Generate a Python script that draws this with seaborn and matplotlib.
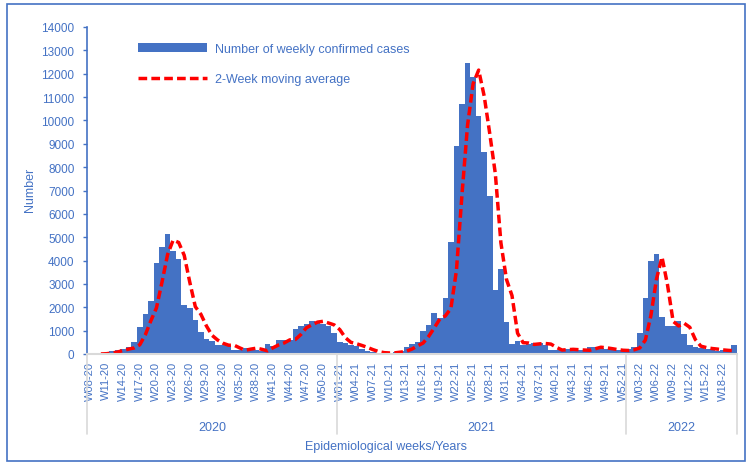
import numpy as np
import pandas as pd
import matplotlib
matplotlib.use("Agg")
import matplotlib.pyplot as plt
import matplotlib.transforms as mtransforms
from matplotlib.patches import Patch, Rectangle
from matplotlib.lines import Line2D
import seaborn as sns

# ---------------- data ----------------
weeks_2020 = [f"W{w:02d}-20" for w in range(8, 53)]
weeks_2021 = [f"W{w:02d}-21" for w in range(1, 53)]
weeks_2022 = [f"W{w:02d}-22" for w in range(1, 21)]

cases_2020 = [0, 5, 20, 60, 110, 190, 230, 290, 500, 1150,
              1700, 2250, 3900, 4600, 5150, 4400, 4050, 2100, 1950, 1450,
              950, 650, 550, 370, 380, 370, 150, 170, 250, 250,
              150, 120, 420, 360, 590, 620, 620, 1050, 1200, 1300,
              1430, 1370, 1280, 1210, 880]
cases_2021 = [520, 480, 400, 330, 230, 140, 70, 45, 45, 60,
              100, 140, 285, 410, 530, 980, 1250, 1740, 1520, 2380,
              4780, 8900, 10700, 12440, 11870, 10200, 8660, 6780, 2750, 3650,
              1350, 430, 540, 400, 420, 450, 450, 400, 170, 170,
              200, 200, 170, 170, 150, 300, 280, 250, 210, 170,
              150, 150]
cases_2022 = [210, 310, 880, 2400, 4000, 4300, 1600, 1200, 1200, 1430,
              860, 380, 290, 260, 210, 210, 140, 170, 110, 400]

years = ["2020", "2021", "2022"]
year_weeks = [weeks_2020, weeks_2021, weeks_2022]

BLUE = "#4472C4"
RED = "#FF0000"
GRAY = "#D9D9D9"

sns.set_theme(style="white")
plt.rcParams["font.family"] = ["Liberation Sans", "DejaVu Sans"]

weeks = weeks_2020 + weeks_2021 + weeks_2022
cases = cases_2020 + cases_2021 + cases_2022
df = pd.DataFrame({"week": weeks, "cases": cases})
df["pos"] = np.arange(len(df))
# 2-week moving average (drawn one week later, as in the source chart)
df["ma"] = df["cases"].rolling(2).mean().shift(1)

W, H = 747, 464
fig = plt.figure(figsize=(W / 100, H / 100), dpi=100)
ax = fig.add_axes([87 / W, 1 - 355 / H, 650 / W, 327 / H])

sns.barplot(data=df, x="week", y="cases", order=weeks, color=BLUE,
            width=1.0, saturation=1, linewidth=0, errorbar=None, ax=ax)
sns.lineplot(data=df.dropna(), x="pos", y="ma", color=RED, lw=2.5, ax=ax)
ax.lines[-1].set_linestyle((0, (2.5, 1.2)))

n = len(weeks)
ax.set_xlim(-0.5, n - 0.5)
ax.set_ylim(0, 14000)
ax.set_yticks(range(0, 14001, 1000))
ax.set_yticklabels([str(v) for v in range(0, 14001, 1000)])
ax.set_xticks(range(0, n, 3))
ax.set_xticklabels(weeks[::3], rotation=90)
ax.set_xlabel("")
ax.set_ylabel("")

ax.tick_params(axis="x", length=0, pad=5, labelsize=8, labelcolor=BLUE)
ax.tick_params(axis="y", direction="out", length=3, width=1, color=BLUE,
               pad=6, labelsize=8.5, labelcolor=BLUE, left=True)
for s in ["top", "right"]:
    ax.spines[s].set_visible(False)
ax.spines["left"].set_color(BLUE)
ax.spines["left"].set_linewidth(1.2)
ax.spines["bottom"].set_color(GRAY)
ax.spines["bottom"].set_linewidth(1.5)
ax.grid(False)

# year group separators and labels
trans = mtransforms.blended_transform_factory(ax.transData, ax.transAxes)
start = -0.5
bounds = [start]
for wk in year_weeks:
    start += len(wk)
    bounds.append(start)
for b in bounds:
    ax.add_line(Line2D([b, b], [0, -80 / 327], transform=trans, color=GRAY,
                       lw=1.2, clip_on=False))
for yr, a, b in zip(years, bounds[:-1], bounds[1:]):
    ax.text((a + b) / 2, -73 / 327, yr, transform=trans, ha="center",
            va="center", fontsize=9, color=BLUE)

fig.text(386 / W, 1 - 447 / H, "Epidemiological weeks/Years", ha="center",
         va="center", fontsize=9, color=BLUE)
fig.text(30 / W, 1 - 190 / H, "Number", ha="center", va="center",
         rotation=90, fontsize=9, color=BLUE)

handles = [Patch(facecolor=BLUE, edgecolor="none"),
           Line2D([], [], color=RED, lw=2.5, linestyle=(0, (2.5, 1.2)))]
fig.legend(handles, ["Number of weekly confirmed cases", "2-Week moving average"],
           loc="upper left", bbox_to_anchor=(138 / W, 1 - 44 / H),
           bbox_transform=fig.transFigure, frameon=False, fontsize=9,
           labelcolor=BLUE, handlelength=5.5, handletextpad=0.65,
           labelspacing=1.45, borderpad=0, borderaxespad=0)

fig.patches.append(Rectangle((7 / W, 2 / H), 738 / W, 457 / H,
                             transform=fig.transFigure, fill=False,
                             edgecolor=BLUE, lw=1.2))

fig.savefig("out.png", dpi=100)
